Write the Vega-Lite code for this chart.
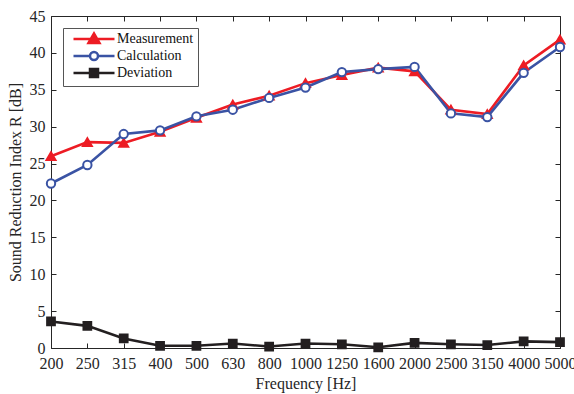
{
  "$schema": "https://vega.github.io/schema/vega-lite/v6.json",
  "autosize": {"type": "none"},
  "padding": {"left": 51, "top": 16, "right": 14, "bottom": 46},
  "width": 509,
  "height": 332,
  "background": "white",
  "config": {
    "font": "Liberation Serif",
    "view": {"stroke": null},
    "axis": {"grid": false, "domainColor": "#262626", "tickColor": "#262626", "labelColor": "#262626", "titleColor": "#262626", "labelFont": "Liberation Serif", "titleFont": "Liberation Serif", "labelFontSize": 16, "titleFontSize": 16, "titleFontWeight": "normal", "tickSize": -5, "domainWidth": 1, "tickWidth": 1}
  },
  "datasets": {
    "main": [
      {"freq": "200", "series": "Measurement", "value": 26.0},
      {"freq": "250", "series": "Measurement", "value": 27.9},
      {"freq": "315", "series": "Measurement", "value": 27.8},
      {"freq": "400", "series": "Measurement", "value": 29.3},
      {"freq": "500", "series": "Measurement", "value": 31.2},
      {"freq": "630", "series": "Measurement", "value": 33.0},
      {"freq": "800", "series": "Measurement", "value": 34.2},
      {"freq": "1000", "series": "Measurement", "value": 35.9},
      {"freq": "1250", "series": "Measurement", "value": 37.0},
      {"freq": "1600", "series": "Measurement", "value": 38.0},
      {"freq": "2000", "series": "Measurement", "value": 37.5},
      {"freq": "2500", "series": "Measurement", "value": 32.3},
      {"freq": "3150", "series": "Measurement", "value": 31.7},
      {"freq": "4000", "series": "Measurement", "value": 38.3},
      {"freq": "5000", "series": "Measurement", "value": 41.8},
      {"freq": "200", "series": "Calculation", "value": 22.3},
      {"freq": "250", "series": "Calculation", "value": 24.8},
      {"freq": "315", "series": "Calculation", "value": 29.0},
      {"freq": "400", "series": "Calculation", "value": 29.5},
      {"freq": "500", "series": "Calculation", "value": 31.4},
      {"freq": "630", "series": "Calculation", "value": 32.3},
      {"freq": "800", "series": "Calculation", "value": 33.9},
      {"freq": "1000", "series": "Calculation", "value": 35.3},
      {"freq": "1250", "series": "Calculation", "value": 37.4},
      {"freq": "1600", "series": "Calculation", "value": 37.8},
      {"freq": "2000", "series": "Calculation", "value": 38.1},
      {"freq": "2500", "series": "Calculation", "value": 31.8},
      {"freq": "3150", "series": "Calculation", "value": 31.3},
      {"freq": "4000", "series": "Calculation", "value": 37.3},
      {"freq": "5000", "series": "Calculation", "value": 40.8},
      {"freq": "200", "series": "Deviation", "value": 3.6},
      {"freq": "250", "series": "Deviation", "value": 3.0},
      {"freq": "315", "series": "Deviation", "value": 1.3},
      {"freq": "400", "series": "Deviation", "value": 0.3},
      {"freq": "500", "series": "Deviation", "value": 0.3},
      {"freq": "630", "series": "Deviation", "value": 0.6},
      {"freq": "800", "series": "Deviation", "value": 0.2},
      {"freq": "1000", "series": "Deviation", "value": 0.6},
      {"freq": "1250", "series": "Deviation", "value": 0.5},
      {"freq": "1600", "series": "Deviation", "value": 0.1},
      {"freq": "2000", "series": "Deviation", "value": 0.7},
      {"freq": "2500", "series": "Deviation", "value": 0.5},
      {"freq": "3150", "series": "Deviation", "value": 0.4},
      {"freq": "4000", "series": "Deviation", "value": 0.9},
      {"freq": "5000", "series": "Deviation", "value": 0.8}
    ],
    "legendRows": [
      {"freq": "200", "series": "Measurement", "value": -10},
      {"freq": "200", "series": "Calculation", "value": -10},
      {"freq": "200", "series": "Deviation", "value": -10}
    ]
  },
  "resolve": {
    "scale": {"shape": "independent", "stroke": "independent", "fill": "independent"},
    "axis": {"x": "independent", "y": "independent"},
    "legend": {"shape": "independent", "stroke": "independent", "fill": "independent"}
  },
  "layer": [
    {
      "data": {"name": "main"},
      "mark": {"type": "line", "strokeWidth": 2.6},
      "encoding": {
        "x": {"field": "freq", "type": "ordinal", "sort": null,
              "scale": {"type": "point", "padding": 0, "domain": ["200","250","315","400","500","630","800","1000","1250","1600","2000","2500","3150","4000","5000"]},
              "axis": {"orient": "bottom", "title": "Frequency [Hz]", "labelAngle": 0, "labelPadding": 12, "titlePadding": 4}},
        "y": {"field": "value", "type": "quantitative",
              "scale": {"domain": [0, 45], "nice": false, "zero": false},
              "axis": {"orient": "left", "title": "Sound Reduction Index R [dB]", "values": [0,5,10,15,20,25,30,35,40,45], "labelPadding": 11, "titlePadding": 6}},
        "color": {"field": "series", "type": "nominal", "legend": null,
                  "scale": {"domain": ["Measurement", "Calculation", "Deviation"], "range": ["#ED1C24", "#3A53A4", "#231F20"]}}
      }
    },
    {
      "data": {"name": "main"},
      "mark": {"type": "point", "strokeWidth": 2, "opacity": 1},
      "encoding": {
        "x": {"field": "freq", "type": "ordinal", "sort": null, "axis": null},
        "y": {"field": "value", "type": "quantitative", "axis": null},
        "shape": {"field": "series", "type": "nominal", "legend": null,
                  "scale": {"domain": ["Measurement", "Calculation", "Deviation"], "range": ["triangle-up", "circle", "square"]}},
        "size": {"field": "series", "type": "nominal", "legend": null,
                 "scale": {"domain": ["Measurement", "Calculation", "Deviation"], "range": [80, 60, 60]}},
        "stroke": {"field": "series", "type": "nominal", "legend": null,
                   "scale": {"domain": ["Measurement", "Calculation", "Deviation"], "range": ["#ED1C24", "#3A53A4", "#231F20"]}},
        "fill": {"field": "series", "type": "nominal", "legend": null,
                 "scale": {"domain": ["Measurement", "Calculation", "Deviation"], "range": ["#ED1C24", "#FFFFFF", "#231F20"]}}
      }
    },
    {
      "data": {"name": "legendRows"},
      "mark": {"type": "point", "clip": true, "strokeWidth": 2.5, "opacity": 1},
      "encoding": {
        "x": {"field": "freq", "type": "ordinal", "sort": null,
              "axis": {"orient": "top", "labels": false, "title": null, "domain": true}},
        "y": {"field": "value", "type": "quantitative",
              "axis": {"orient": "right", "labels": false, "title": null, "values": [0,5,10,15,20,25,30,35,40,45], "domain": true}},
        "shape": {"field": "series", "type": "nominal",
                  "scale": {"domain": ["Measurement", "Calculation", "Deviation"], "range": [
                    "M-4.1,0H4.1M-1.1,0.8L0,-1.1L1.1,0.8Z",
                    "M-4.1,0H-0.8M0.8,0H4.1M-0.8,0A0.8,0.8 0 1,0 0.8,0A0.8,0.8 0 1,0 -0.8,0Z",
                    "M-4.1,0H4.1M-0.8,-0.8H0.8V0.8H-0.8Z"]},
                  "legend": {"orient": "none", "legendX": 12, "legendY": 12, "title": null, "symbolSize": 100, "symbolOffset": 20, "symbolStrokeWidth": 2.5, "labelFont": "Liberation Serif", "labelFontSize": 14, "labelColor": "#111", "labelOffset": 16, "strokeColor": "#555", "fillColor": "white", "padding": 4, "rowPadding": -1, "symbolOpacity": 1}},
        "stroke": {"field": "series", "type": "nominal",
                   "scale": {"domain": ["Measurement", "Calculation", "Deviation"], "range": ["#ED1C24", "#3A53A4", "#231F20"]},
                   "legend": {"orient": "none", "legendX": 12, "legendY": 12, "title": null, "symbolSize": 100, "symbolOffset": 20, "symbolStrokeWidth": 2.5, "labelFont": "Liberation Serif", "labelFontSize": 14, "labelColor": "#111", "labelOffset": 16, "strokeColor": "#555", "fillColor": "white", "padding": 4, "rowPadding": -1, "symbolOpacity": 1}},
        "fill": {"field": "series", "type": "nominal",
                 "scale": {"domain": ["Measurement", "Calculation", "Deviation"], "range": ["#ED1C24", "#FFFFFF", "#231F20"]},
                 "legend": {"orient": "none", "legendX": 12, "legendY": 12, "title": null, "symbolSize": 100, "symbolOffset": 20, "symbolStrokeWidth": 2.5, "labelFont": "Liberation Serif", "labelFontSize": 14, "labelColor": "#111", "labelOffset": 16, "strokeColor": "#555", "fillColor": "white", "padding": 4, "rowPadding": -1, "symbolOpacity": 1}}
      }
    }
  ]
}
